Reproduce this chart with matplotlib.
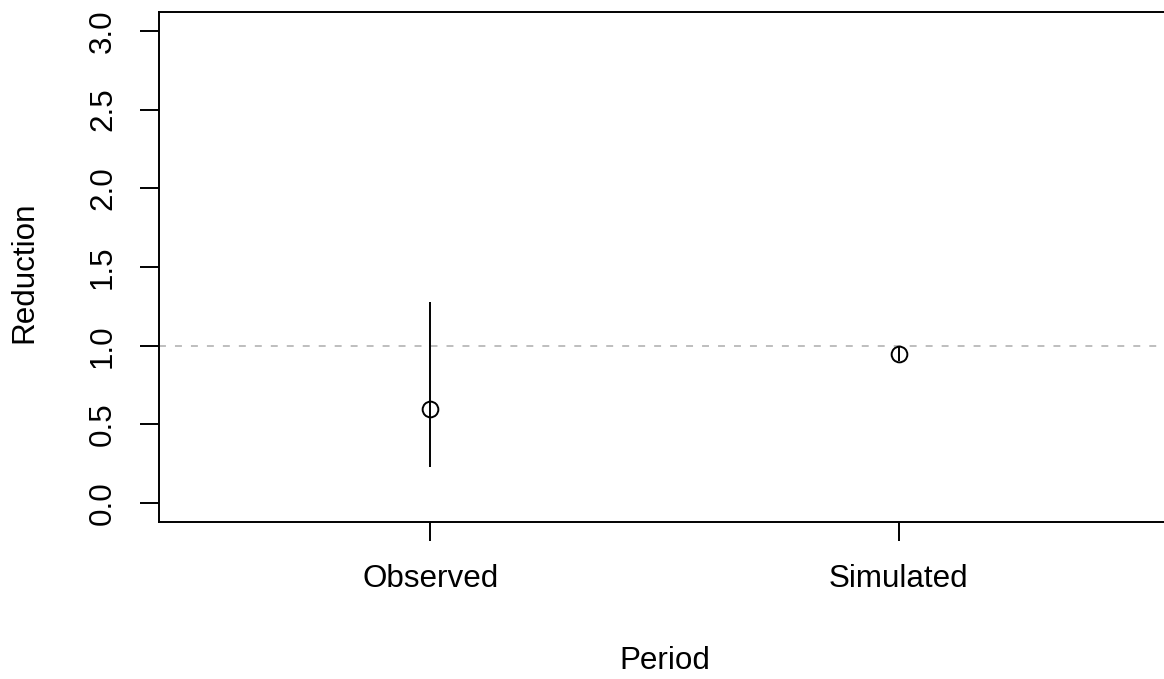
import matplotlib.pyplot as plt
import matplotlib as mpl

mpl.rcParams['font.family'] = ['Liberation Sans', 'DejaVu Sans']
mpl.rcParams['lines.scale_dashes'] = False

# data
periods = ["Observed", "Simulated"]
xpos = [1, 2]
means = [0.60, 0.945]
lower = [0.23, 0.90]
upper = [1.28, 0.99]
ref_line = 1.0
yticks = [0.0, 0.5, 1.0, 1.5, 2.0, 2.5, 3.0]

fig = plt.figure(figsize=(11.64, 6.79), dpi=100)
ax = fig.add_axes([159 / 1164, 157 / 679, 1011 / 1164, 510 / 679])

# reference line
ax.axhline(ref_line, color="#BEBEBE", lw=1.4, dashes=(5, 6.5), zorder=1)

# intervals and points
ax.vlines(xpos, lower, upper, color="black", lw=1.4, zorder=2)
ax.plot(xpos, means, "o", mfc="none", mec="black", ms=11.3, mew=1.4, zorder=3)

ax.set_xlim(0.42, 2.58)
ax.set_ylim(-0.12, 3.12)

for s in ax.spines.values():
    s.set_linewidth(1.4)

ax.set_xticks(xpos)
ax.set_xticklabels(periods)
ax.set_yticks(yticks)
ax.set_yticklabels([f"{v:.1f}" for v in yticks], rotation=90, va="center")
ax.tick_params(axis="both", length=14, width=1.4, labelsize=22.6)
ax.tick_params(axis="x", pad=16)
ax.tick_params(axis="y", pad=15.5)

ax.set_xlabel("Period", fontsize=22.6, labelpad=38)
ax.set_ylabel("Reduction", fontsize=22.6)
ax.yaxis.set_label_coords(-0.118, 0.49)

fig.savefig("out.png", dpi=100)
